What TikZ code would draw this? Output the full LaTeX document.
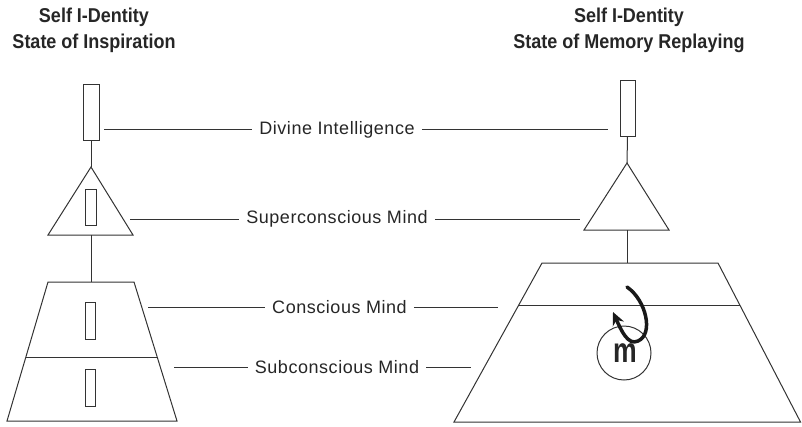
\documentclass[tikz,border=0pt]{standalone}
\usepackage{fontspec}
\setmainfont{Liberation Sans}
\newfontfamily\lblfont[LetterSpace=3]{Liberation Sans}
\newfontfamily\ttlfont[FakeStretch=0.9]{Liberation Sans}
\usetikzlibrary{arrows.meta}
\begin{document}
\begin{tikzpicture}[x=1pt,y=-1pt,
  line/.style={draw=black!80, line width=1pt},
  bar/.style={line, rectangle, inner sep=0pt, fill=white},
  lbl/.style={font=\lblfont\fontsize{18}{20}\selectfont, text=black!85, inner ysep=0pt, inner xsep=7pt},
  ttl/.style={font=\ttlfont\bfseries\fontsize{20}{26}\selectfont, align=center, text=black!85},
  mcirc/.style={line, circle, minimum size=54pt, inner sep=0pt}]
\useasboundingbox (0,0) rectangle (802,426);

% titles
\node[ttl] (T1) at (94,30) {Self I-Dentity\\State of Inspiration};
\node[ttl] (T2) at (629,30) {Self I-Dentity\\State of Memory Replaying};

% ---------- left figure ----------
\node[bar, minimum width=16pt, minimum height=56pt] (LR) at (91,112) {};
\coordinate (LTa) at (91,167);
\coordinate (LTl) at (48,235);
\coordinate (LTr) at (133,235);
\coordinate (LTb) at (91,235);
\draw[line] (LTa) -- (LTr) -- (LTl) -- cycle;
\node[bar, minimum width=11pt, minimum height=36pt] (LTi) at (90.5,207) {};
\coordinate (LPtl) at (48,282);
\coordinate (LPtr) at (134,282);
\coordinate (LPml) at (26,357);
\coordinate (LPmr) at (157,357);
\coordinate (LPbl) at (7,421);
\coordinate (LPbr) at (177,421);
\coordinate (LPt) at (91,282);
\draw[line] (LPtl) -- (LPtr) -- (LPbr) -- (LPbl) -- cycle;
\draw[line] (LPml) -- (LPmr);
\node[bar, minimum width=10pt, minimum height=37pt] (LPi1) at (90,320.5) {};
\node[bar, minimum width=10pt, minimum height=37pt] (LPi2) at (90,387.5) {};
\draw[line] (LR.south) -- (LTa);
\draw[line] (LTb) -- (LPt);

% ---------- right figure ----------
\node[bar, minimum width=15pt, minimum height=56pt] (RR) at (627.5,108) {};
\coordinate (RTa) at (627,163);
\coordinate (RTl) at (584,230);
\coordinate (RTr) at (669,230);
\coordinate (RTb) at (627,230);
\draw[line] (RTa) -- (RTr) -- (RTl) -- cycle;
\coordinate (RPtl) at (542,263);
\coordinate (RPtr) at (718,263);
\coordinate (RPml) at (519,305);
\coordinate (RPmr) at (740,305);
\coordinate (RPbl) at (454,422);
\coordinate (RPbr) at (800.5,422);
\coordinate (RPt) at (627,263);
\draw[line] (RPtl) -- (RPtr) -- (RPbr) -- (RPbl) -- cycle;
\draw[line] (RPml) -- (RPmr);
\draw[line] (RR.south) -- (RTa);
\draw[line] (RTb) -- (RPt);
\node[mcirc] (M) at (624,353) {};
\node[font=\bfseries\fontsize{28}{30}\selectfont, text=black!85] (Mm) at (625,353) {\scalebox{0.95}[1.25]{m}};
\coordinate (A0) at (627,287);
\coordinate (A1) at (638,341);
\coordinate (A2) at (613,312);
\draw[line width=3.5pt, black!90, line cap=round, -{Stealth[length=13pt,width=12pt]}]
  (A0) .. controls (646,300) and (654,334) .. (A1)
       .. controls (628,346) and (621,330) .. (A2);

% ---------- labels ----------
\node[lbl] (DI) at (337,129.5) {Divine Intelligence};
\node[lbl] (SC) at (337,219) {Superconscious Mind};
\node[lbl] (CM) at (339.5,307) {Conscious Mind};
\node[lbl] (SM) at (337,367) {Subconscious Mind};

\coordinate (DIl) at (104,129.5);
\coordinate (DIr) at (608,129.5);
\coordinate (SCl) at (130,219);
\coordinate (SCr) at (580,219);
\coordinate (CMl) at (148,307);
\coordinate (CMr) at (498,307);
\coordinate (SMl) at (174,367);
\coordinate (SMr) at (471,367);

\draw[line] (DIl) -- (DI.west);
\draw[line] (DI.east) -- (DIr);
\draw[line] (SCl) -- (SC.west);
\draw[line] (SC.east) -- (SCr);
\draw[line] (CMl) -- (CM.west);
\draw[line] (CM.east) -- (CMr);
\draw[line] (SMl) -- (SM.west);
\draw[line] (SM.east) -- (SMr);
\end{tikzpicture}
\end{document}
